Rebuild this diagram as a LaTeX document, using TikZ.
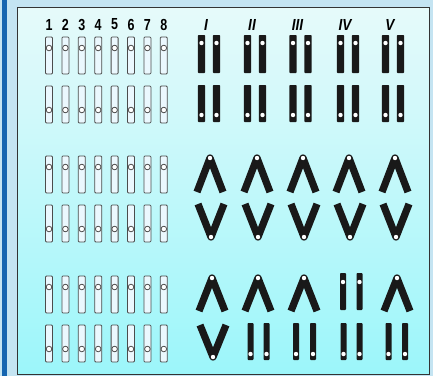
\documentclass[tikz,border=0pt]{standalone}
\usepackage{xcolor}
\usepackage{tikz}
\usepackage{fontspec}
\setmainfont{Liberation Sans}

\definecolor{framebg}{HTML}{C4E4F2}
\definecolor{framebar}{HTML}{1565B0}
\definecolor{paneltop}{HTML}{E6FAFA}
\definecolor{panelbot}{HTML}{9CF6FA}

\begin{document}
\begin{tikzpicture}[x=1pt, y=-1pt,
		numlabel/.style={font=\fontsize{16}{17}\selectfont\bfseries, inner sep=0pt},
		romlabel/.style={font=\fontsize{16}{17}\selectfont\bfseries\itshape, inner sep=0pt},
		whitebar/.style={draw=black!70, line width=0.8pt, fill=white!92!cyan, rounded corners=1pt},
		cenring/.style={draw=black!70, line width=0.8pt, fill=white},
		blackbar/.style={fill=black!90, rounded corners=0.8pt},
		armpair/.style={draw=black!90, line width=7.2pt, line join=round},
		cendot/.style={fill=white}]
	\useasboundingbox (0,0) rectangle (433,376);
	% frame and panel
	\fill[framebg] (0,0) rectangle (433,376);
	\fill[framebar] (2,0) rectangle (7,376);
	\shade[top color=paneltop, bottom color=panelbot] (17.5,7.5) rectangle (429.5,374);
	\draw[black!80, line width=1pt] (17.5,7.5) rectangle (429.5,374);
	
	% left: eight unpaired chromosomes, three times
	\foreach \i in {1,...,8} {
		\node[numlabel] (num-\i) at (49+16.4*\i-16.4, 24.5) {\scalebox{0.78}[1]{\i}};
	}
	\foreach \top/\bot in {37/86, 156/205, 276/325} {
		\foreach \i in {0,...,7} {
			\pgfmathsetmacro\cx{49+16.4*\i}
			\draw[whitebar] (\cx-3.5,\top) rectangle (\cx+3.5,\top+37);
			\draw[cenring] (\cx,\top+11) circle (2.8);
			\draw[whitebar] (\cx-3.5,\bot) rectangle (\cx+3.5,\bot+37);
			\draw[cenring] (\cx,\bot+24) circle (2.8);
		}
	}
	
	% right, top row: all pairs straight
	\foreach \cx/\rn in {209/I, 255/II, 300.5/III, 348/IV, 393/V} {
		\node[romlabel] (rom-\rn) at (\cx-3,24.5) {\scalebox{0.85}[1]{\rn}};
		\foreach \dx in {-7.5,7.5} {
			\fill[blackbar] (\cx+\dx-3.6,35) rectangle (\cx+\dx+3.6,73);
			\fill[cendot] (\cx+\dx,43) circle (2.2);
			\fill[blackbar] (\cx+\dx-3.6,85) rectangle (\cx+\dx+3.6,122);
			\fill[cendot] (\cx+\dx,115) circle (2.2);
		}
	}
	
	% right, middle row: all pairs bent
	\foreach \ax in {210,257,303,349,395} {
		\draw[armpair] (\ax-13,192) -- (\ax,158) -- (\ax+13,192);
		\fill[cendot] (\ax,158) circle (2.2);
		\draw[armpair] (\ax-12,204) -- (\ax+1,237) -- (\ax+14,204);
		\fill[cendot] (\ax+1,237) circle (2.2);
	}
	
	% right, bottom row: mixed
	\foreach \ax in {212,258,304,397} {
		\draw[armpair] (\ax-13,311) -- (\ax,278) -- (\ax+13,311);
		\fill[cendot] (\ax,278) circle (2.2);
	}
	\foreach \cx in {343,359.5} {
		\fill[blackbar] (\cx-3,273) rectangle (\cx+3,310);
		\fill[cendot] (\cx,282) circle (2.2);
	}
	\draw[armpair] (200,325) -- (213,357) -- (226,325);
	\fill[cendot] (213,357) circle (2.2);
	\foreach \cx in {250.5,266.5,296,313,343.5,359.5,388.5,405} {
		\fill[blackbar] (\cx-3,323) rectangle (\cx+3,360);
		\fill[cendot] (\cx,354) circle (2.2);
	}
\end{tikzpicture}
\end{document}
